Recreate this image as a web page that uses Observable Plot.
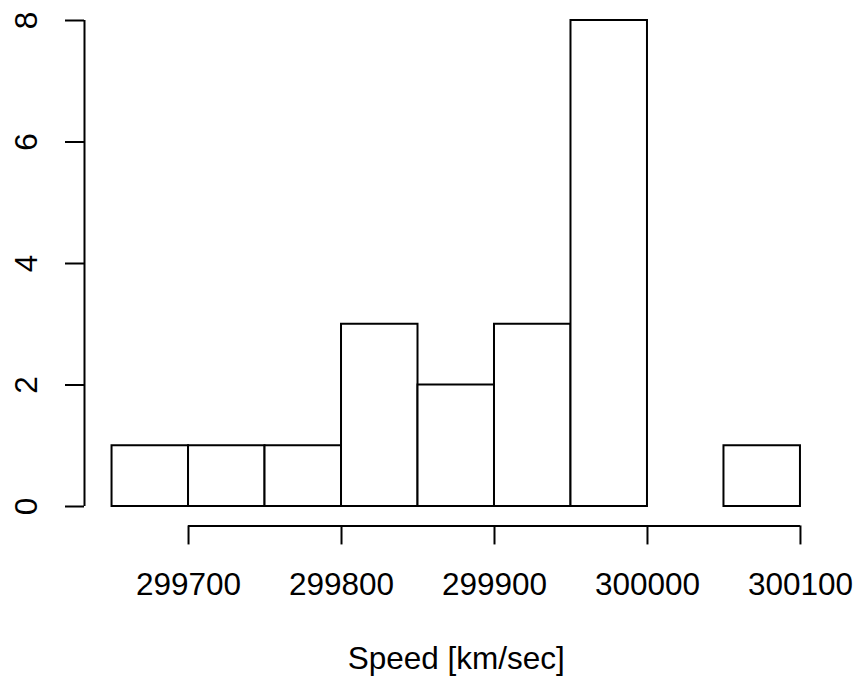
<!DOCTYPE html>
<html>
<head>
<meta charset="utf-8">
<script src="https://cdn.jsdelivr.net/npm/d3@7"></script>
<script src="https://cdn.jsdelivr.net/npm/@observablehq/plot@0.6"></script>
<style>
  html, body { margin: 0; padding: 0; background: #fff; }
  #chart svg { display: block; }
</style>
</head>
<body>
<div id="chart"></div>
<script>
// Histogram of speed of light measurements
const binStarts = [299650, 299700, 299750, 299800, 299850, 299900, 299950, 300000, 300050];
const binWidth = 50;
const counts = [1, 1, 1, 3, 2, 3, 8, 0, 1];
const xTicks = [299700, 299800, 299900, 300000, 300100];
const yTicks = [0, 2, 4, 6, 8];
const xLabel = "Speed [km/sec]";

const bins = binStarts.map((s, i) => ({x1: s, x2: s + binWidth, count: counts[i]}));

// R-style 4% axis extension
const xr = [binStarts[0], binStarts[binStarts.length - 1] + binWidth];
const xpad = (xr[1] - xr[0]) * 0.04;
const xDomain = [xr[0] - xpad, xr[1] + xpad];
const yr = [0, d3.max(counts)];
const ypad = (yr[1] - yr[0]) * 0.04;
const yDomain = [yr[0] - ypad, yr[1] + ypad];

const font = "'Liberation Sans', Arial, Helvetica, sans-serif";
const fs = 31.5;
const lw = 2;

const chart = Plot.plot({
  width: 858,
  height: 679,
  marginLeft: 84,
  marginRight: 30.5,
  marginTop: 0.56,
  marginBottom: 153.56,
  style: {fontFamily: font, background: "#fff", color: "#000"},
  x: {domain: xDomain, axis: null},
  y: {domain: yDomain, axis: null},
  marks: [
    Plot.rect(bins, {x1: "x1", x2: "x2", y1: 0, y2: "count", fill: "#fff", stroke: "#000", strokeWidth: lw}),
    // x axis
    Plot.ruleY([yDomain[0]], {x1: xTicks[0], x2: xTicks[xTicks.length - 1], stroke: "#000", strokeWidth: lw}),
    Plot.axisX({ticks: xTicks, tickSize: 19, tickPadding: 28, tickFormat: d => String(d), fontSize: fs, strokeWidth: lw, stroke: "#000", fill: "#000", label: null}),
    // y axis
    Plot.ruleX([xDomain[0]], {y1: yTicks[0], y2: yTicks[yTicks.length - 1], stroke: "#000", strokeWidth: lw}),
    Plot.axisY({ticks: yTicks, tickSize: 19, text: null, strokeWidth: lw, stroke: "#000", label: null}),
    Plot.text(yTicks, {y: d => d, frameAnchor: "left", dx: -58, text: d => String(d), rotate: -90, textAnchor: "middle", lineAnchor: "middle", fontSize: fs, fill: "#000"}),
    // x label
    Plot.text([xLabel], {frameAnchor: "bottom", dy: 133, text: d => d, textAnchor: "middle", lineAnchor: "middle", fontSize: fs, fill: "#000"})
  ]
});
document.getElementById("chart").appendChild(chart);
</script>
</body>
</html>
